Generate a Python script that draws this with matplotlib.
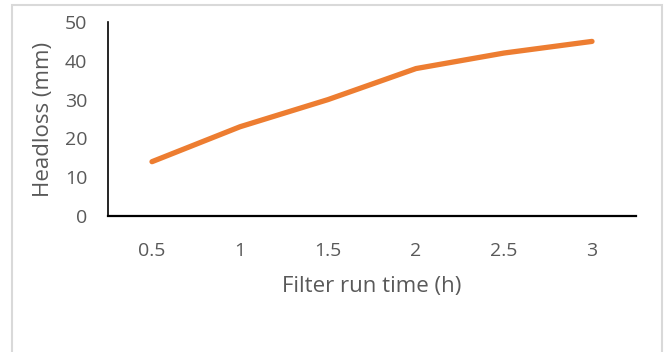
import matplotlib.pyplot as plt
from matplotlib.patches import Rectangle

run_time = ['0.5', '1', '1.5', '2', '2.5', '3']
headloss = [14, 23, 30, 38, 42, 45]

plt.rcParams['font.family'] = ['Open Sans', 'DejaVu Sans']

fig = plt.figure(figsize=(6.66, 3.52), dpi=100)
# light grey chart-area border, open at the bottom
fig.patches.append(Rectangle((12/666, -0.1), 650/666, 1.1 - 5/352,
                             transform=fig.transFigure, fill=False,
                             edgecolor='#d9d9d9', linewidth=1.5))

ax = fig.add_axes([108/666, 1 - 216/352, 528/666, 194/352])
x = range(len(run_time))
ax.plot(x, headloss, color='#ed7d31', linewidth=3.8, solid_capstyle='round',
        solid_joinstyle='round')

ax.set_xlim(-0.5, len(run_time) - 0.5)
ax.set_ylim(0, 50)
ax.set_yticks(range(0, 51, 10))
ax.set_xticks(list(x))
ax.set_xticklabels(run_time)
ax.tick_params(length=0, labelsize=14, labelcolor='#595959')
ax.tick_params(axis='x', pad=19)
ax.tick_params(axis='y', pad=15)

for s in ['top', 'right']:
    ax.spines[s].set_visible(False)
ax.spines['left'].set_color('black')
ax.spines['left'].set_linewidth(1.2)
ax.spines['bottom'].set_color('black')
ax.spines['bottom'].set_linewidth(1.6)

ax.set_xlabel('Filter run time (h)', fontsize=16, color='#595959', labelpad=11)
ax.set_ylabel('Headloss (mm)', fontsize=16, color='#595959', labelpad=8)

fig.savefig('out.png', dpi=100)
